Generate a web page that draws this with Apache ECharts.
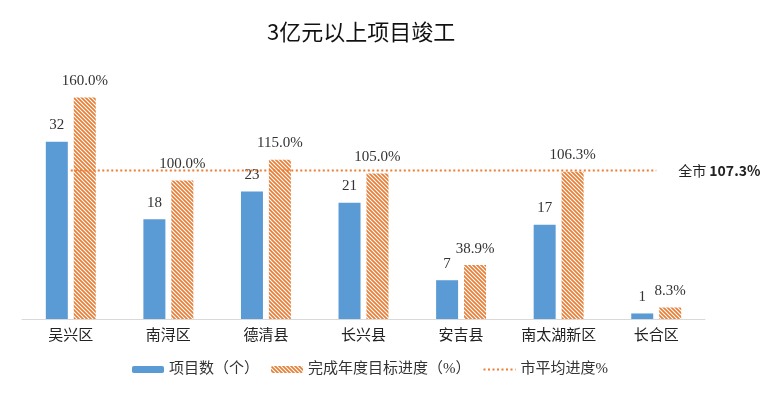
<!DOCTYPE html>
<html>
<head>
<meta charset="utf-8">
<script src="https://cdn.jsdelivr.net/npm/echarts@6/dist/echarts.min.js"></script>
<style>
  html, body { margin: 0; padding: 0; background: #fff; }
  #chart { width: 768px; height: 398px; }
</style>
</head>
<body>
<div id="chart"></div>
<script>
// 数据
var categories = ["吴兴区", "南浔区", "德清县", "长兴县", "安吉县", "南太湖新区", "长合区"];
var projectCount = [32, 18, 23, 21, 7, 17, 1];
var progress = [160.0, 100.0, 115.0, 105.0, 38.9, 106.3, 8.3];
var cityAverage = 107.3;
var seriesNames = ["项目数（个）", "完成年度目标进度（%）", "市平均进度%"];

// 斜线填充
function hatch() {
  var s = 4;
  var c = document.createElement("canvas");
  c.width = s;
  c.height = s;
  var ctx = c.getContext("2d");
  ctx.fillStyle = "#ffffff";
  ctx.fillRect(0, 0, s, s);
  ctx.strokeStyle = "#E57E36";
  ctx.lineWidth = 1.7;
  ctx.beginPath();
  ctx.moveTo(-1, -1); ctx.lineTo(s + 1, s + 1);
  ctx.moveTo(-1, s - 1); ctx.lineTo(1, s + 1);
  ctx.moveTo(s - 1, -1); ctx.lineTo(s + 1, 1);
  ctx.stroke();
  return c;
}

var serif = "'Liberation Serif', 'Noto Sans CJK SC', serif";
var chart = echarts.init(document.getElementById("chart"));

chart.setOption({
  animation: false,
  backgroundColor: "#fff",
  title: {
    text: "3亿元以上项目竣工",
    left: 262,
    top: 16,
    textStyle: {
      fontFamily: "'Noto Sans CJK SC', sans-serif",
      fontSize: 22,
      fontWeight: "normal",
      color: "#111"
    }
  },
  grid: { left: 22, right: 63, top: 42, bottom: 79 },
  legend: {
    left: 127,
    top: 357,
    itemWidth: 32,
    itemHeight: 7,
    itemGap: 12,
    textStyle: { fontFamily: serif, fontSize: 15, color: "#333" },
    data: [
      seriesNames[0],
      seriesNames[1],
      { name: seriesNames[2], itemStyle: { opacity: 0 } }
    ]
  },
  xAxis: {
    type: "category",
    data: categories,
    axisLine: { lineStyle: { color: "#D9D9D9", width: 1 } },
    axisTick: { show: false },
    axisLabel: { fontFamily: serif, fontSize: 15, color: "#222", margin: 10 }
  },
  yAxis: [
    { type: "value", min: 0, max: 50, show: false },
    { type: "value", min: 0, max: 200, show: false }
  ],
  series: [
    {
      name: seriesNames[0],
      type: "bar",
      yAxisIndex: 0,
      barWidth: 22,
      barGap: "27%",
      itemStyle: { color: "#5B9BD5" },
      label: {
        show: true,
        position: "top",
        distance: 9,
        fontFamily: serif,
        fontSize: 15,
        color: "#333"
      },
      data: projectCount
    },
    {
      name: seriesNames[1],
      type: "bar",
      yAxisIndex: 1,
      barWidth: 22,
      itemStyle: { color: { image: hatch(), repeat: "repeat" } },
      label: {
        show: true,
        position: "top",
        distance: 9,
        fontFamily: serif,
        fontSize: 15,
        color: "#333",
        formatter: function (p) { return p.value.toFixed(1) + "%"; }
      },
      data: progress
    },
    {
      name: seriesNames[2],
      type: "line",
      yAxisIndex: 1,
      symbol: "none",
      z: 5,
      lineStyle: { color: "#ED7D31", width: 2, type: [2, 2.5] },
      itemStyle: { color: "#ED7D31" },
      endLabel: {
        show: true,
        distance: 22,
        formatter: "全市 {b|" + cityAverage.toFixed(1) + "%}",
        fontFamily: "'Noto Sans CJK SC', sans-serif",
        fontSize: 14,
        color: "#222",
        rich: {
          b: { fontFamily: "'Noto Sans CJK SC', sans-serif", fontSize: 14, fontWeight: "bold", color: "#222" }
        }
      },
      data: categories.map(function () { return cityAverage; })
    }
  ]
});
</script>
</body>
</html>
